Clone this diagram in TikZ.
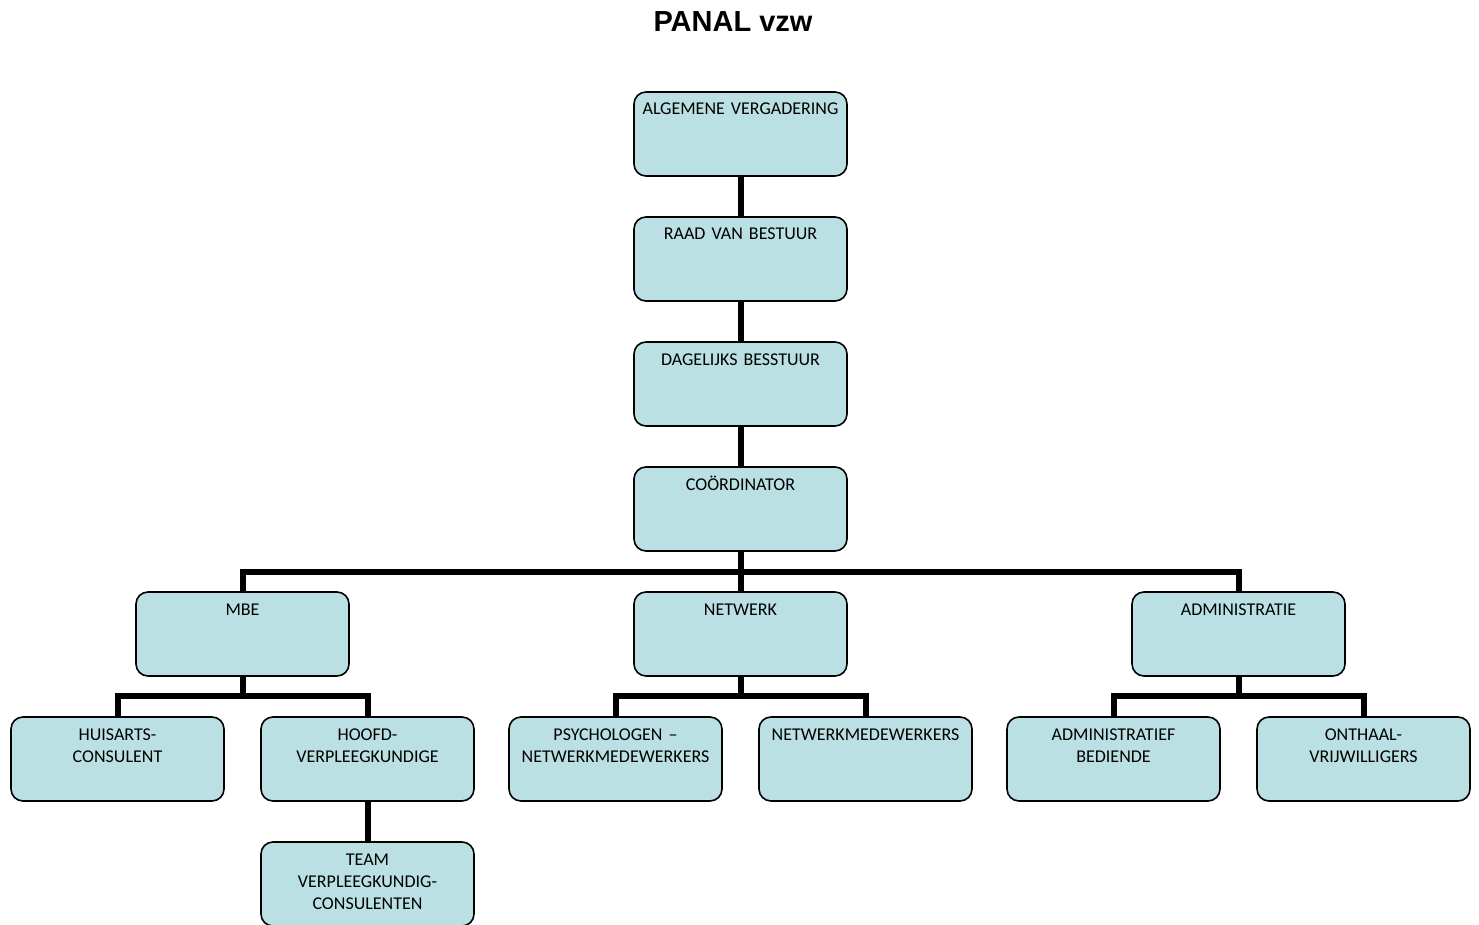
\documentclass[tikz,border=0pt]{standalone}
\usepackage{fontspec}
\setmainfont{Carlito}
\newfontfamily\titlefont{Liberation Sans}
\usepackage{tikz}
\usetikzlibrary{calc}
\usetikzlibrary{positioning}
\definecolor{boxblue}{RGB}{187,224,227}

\begin{document}
\begin{tikzpicture}[x=1pt,y=1pt,
unit/.style={draw,line width=1.6pt,outer sep=0pt,rounded corners=12pt,fill=boxblue,minimum width=213pt,minimum height=84pt,text width=205pt,inner xsep=4pt,inner ysep=10pt,text height=13pt,text depth=51pt,align=center,font=\fontsize{18}{22}\selectfont},
link/.style={line width=6pt}]

\useasboundingbox (0,0) rectangle (1479,-925);

\node[anchor=base] (title) at (733,-32) {\titlefont\bfseries\fontsize{29}{32}\selectfont PANAL vzw};

\node[unit,anchor=north] (av) at (740.5,-92) {ALGEMENE VERGADERING};
\node[unit,below=41pt of av] (rvb) {RAAD VAN BESTUUR};
\node[unit,below=41pt of rvb] (db) {DAGELIJKS BESSTUUR};
\node[unit,below=41pt of db] (coord) {COÖRDINATOR};

\node[unit,below=41pt of coord] (netwerk) {NETWERK};
\node[unit,left=285pt of netwerk] (mbe) {MBE};
\node[unit,right=285pt of netwerk] (admin) {ADMINISTRATIE};

\node[unit,below=41pt of mbe,xshift=-125pt] (huisarts) {HUISARTS-\\CONSULENT};
\node[unit,below=41pt of mbe,xshift=125pt] (hoofd) {HOOFD-\\VERPLEEGKUNDIGE};
\node[unit,below=41pt of hoofd] (team) {TEAM\\VERPLEEGKUNDIG-\\CONSULENTEN};
\node[unit,below=41pt of netwerk,xshift=-125pt] (psych) {PSYCHOLOGEN –\\NETWERKMEDEWERKERS};
\node[unit,below=41pt of netwerk,xshift=125pt] (nwm) {NETWERKMEDEWERKERS};
\node[unit,below=41pt of admin,xshift=-125pt] (adminb) {ADMINISTRATIEF\\BEDIENDE};
\node[unit,below=41pt of admin,xshift=125pt] (onthaal) {ONTHAAL-\\VRIJWILLIGERS};

\draw[link] (av) -- (rvb);
\draw[link] (rvb) -- (db);
\draw[link] (db) -- (coord);

\draw[link] (coord.south) -- ++(0,-21) -| (mbe.north);
\draw[link] (coord.south) -- ++(0,-21) -| (admin.north);
\draw[link] (coord) -- (netwerk);

\draw[link] (mbe.south) -- ++(0,-20) -| (huisarts.north);
\draw[link] (mbe.south) -- ++(0,-20) -| (hoofd.north);
\draw[link] (hoofd) -- (team);

\draw[link] (netwerk.south) -- ++(0,-20) -| (psych.north);
\draw[link] (netwerk.south) -- ++(0,-20) -| (nwm.north);

\draw[link] (admin.south) -- ++(0,-20) -| (adminb.north);
\draw[link] (admin.south) -- ++(0,-20) -| (onthaal.north);
\end{tikzpicture}
\end{document}
